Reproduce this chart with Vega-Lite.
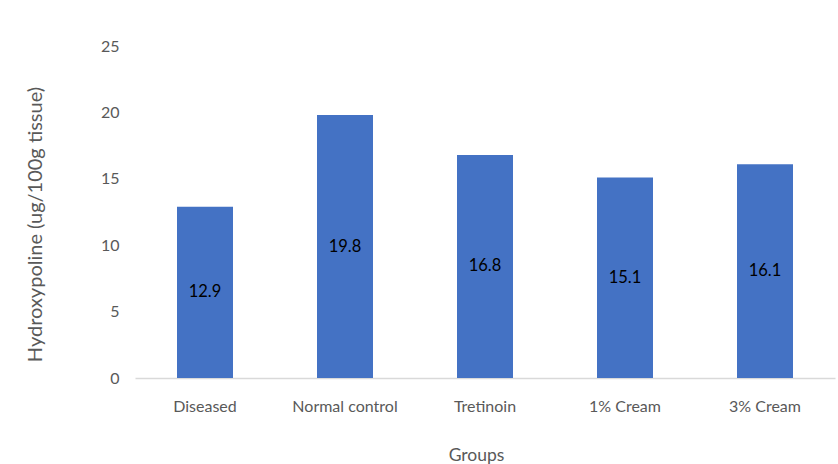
{
  "$schema": "https://vega.github.io/schema/vega-lite/v6.json",
  "width": 700,
  "height": 332,
  "autosize": "none",
  "padding": {"left": 135, "top": 46, "right": 3, "bottom": 86},
  "background": "white",
  "config": {
    "view": {"stroke": null},
    "font": "Lato"
  },
  "data": {
    "values": [
      {"group": "Diseased", "value": 12.9},
      {"group": "Normal control", "value": 19.8},
      {"group": "Tretinoin", "value": 16.8},
      {"group": "1% Cream", "value": 15.1},
      {"group": "3% Cream", "value": 16.1}
    ]
  },
  "encoding": {
    "x": {
      "field": "group",
      "type": "nominal",
      "sort": null,
      "scale": {"paddingInner": 0.6, "paddingOuter": 0.3},
      "axis": {
        "title": "Groups",
        "titleFont": "Lato",
        "titleFontSize": 17.5,
        "titleFontWeight": "normal",
        "titleColor": "#595959",
        "titleX": 341,
        "titleY": 77,
        "titleBaseline": "middle",
        "labelAngle": 0,
        "labelFont": "Lato",
        "labelFontSize": 16,
        "labelColor": "#595959",
        "labelPadding": 20,
        "ticks": false,
        "domainColor": "#d9d9d9",
        "domainWidth": 1.5
      }
    }
  },
  "layer": [
    {
      "mark": {"type": "bar", "color": "#4472C4"},
      "encoding": {
        "y": {
          "field": "value",
          "type": "quantitative",
          "scale": {"domain": [0, 25], "nice": false},
          "axis": {
            "title": "Hydroxypoline (ug/100g tissue)",
            "titleFont": "Lato",
            "titleFontSize": 20,
            "titleFontWeight": "normal",
            "titleColor": "#595959",
            "titleX": -100,
            "titleY": 178,
            "titleAngle": -90,
            "titleAlign": "center",
            "titleBaseline": "middle",
            "values": [0, 5, 10, 15, 20, 25],
            "grid": false,
            "domain": false,
            "ticks": false,
            "labelFont": "Lato",
            "labelFontSize": 16,
            "labelColor": "#595959",
            "labelPadding": 16
          }
        }
      }
    },
    {
      "transform": [{"calculate": "datum.value / 2", "as": "mid"}],
      "mark": {"type": "text", "color": "#000000", "font": "Lato", "fontSize": 16.5, "baseline": "middle"},
      "encoding": {
        "y": {"field": "mid", "type": "quantitative", "scale": {"domain": [0, 25], "nice": false}},
        "text": {"field": "value", "type": "quantitative", "format": ".1f"}
      }
    }
  ]
}
